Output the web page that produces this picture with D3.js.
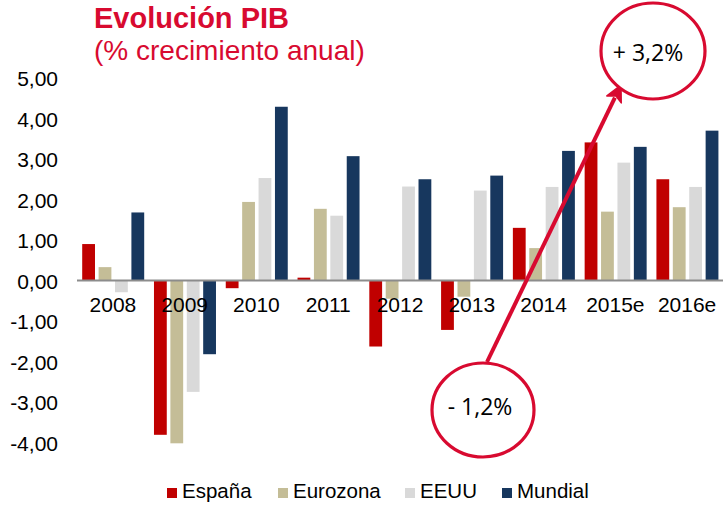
<!DOCTYPE html>
<html>
<head>
<meta charset="utf-8">
<script src="https://cdn.jsdelivr.net/npm/d3@7"></script>
<style>
  body { margin: 0; background: #fff; }
  svg { display: block; font-family: "Liberation Sans", Arial, sans-serif; }
</style>
</head>
<body>
<svg width="723" height="505"></svg>
<script>
// GDP growth, % per year
const years = ['2008', '2009', '2010', '2011', '2012', '2013', '2014', '2015e', '2016e'];
const series = ['España', 'Eurozona', 'EEUU', 'Mundial'];
const espana   = [0.90, -3.81, -0.19, 0.07, -1.63, -1.22, 1.30, 3.41, 2.50];
const eurozona = [0.33, -4.02, 1.94, 1.77, -0.45, -0.40, 0.80, 1.70, 1.81];
const eeuu     = [-0.29, -2.75, 2.53, 1.60, 2.32, 2.22, 2.31, 2.91, 2.31];
const mundial  = [1.68, -1.82, 4.29, 3.07, 2.50, 2.59, 3.20, 3.30, 3.70];
const yTicks = [-4, -3, -2, -1, 0, 1, 2, 3, 4, 5];

const colors = ['#c00000', '#c4bd97', '#d9d9d9', '#17375e'];
const red = '#d80a30';

const svg = d3.select('svg');
const values = [espana, eurozona, eeuu, mundial];

const x0 = d3.scaleBand().domain(years).range([77, 723]);
const x1 = d3.scaleBand().domain(series).range([5.2, 67.2]).paddingInner(0.22);
const y = d3.scaleLinear().domain([-4, 5]).range([442.5, 78]);
const fmt = d => d3.format('.2f')(d).replace('.', ',').replace('−', '-');

// title
svg.append('text').attr('x', 94).attr('y', 28)
  .attr('font-size', 29).attr('font-weight', 'bold').attr('fill', red)
  .text('Evolución PIB');
svg.append('text').attr('x', 94).attr('y', 60)
  .attr('font-size', 28).attr('fill', red)
  .text('(% crecimiento anual)');

// y axis labels
const yAxis = svg.append('g').attr('transform', 'translate(58,0)')
  .call(d3.axisLeft(y).tickValues(yTicks).tickFormat(fmt).tickSize(0).tickPadding(0));
yAxis.select('.domain').remove();
yAxis.selectAll('text').attr('font-size', 21).attr('fill', '#000')
  .attr('font-family', '"Liberation Sans", Arial, sans-serif').attr('dy', '0.38em');

// bars
const groups = svg.append('g').selectAll('g')
  .data(years)
  .join('g')
  .attr('transform', d => `translate(${x0(d)},0)`);

groups.selectAll('rect')
  .data((yr, i) => series.map((s, k) => ({ s, k, v: values[k][i] })))
  .join('rect')
  .attr('x', d => x1(d.s))
  .attr('width', x1.bandwidth())
  .attr('y', d => y(Math.max(0, d.v)))
  .attr('height', d => Math.abs(y(d.v) - y(0)))
  .attr('fill', d => colors[d.k]);

// zero line
svg.append('line')
  .attr('x1', 77).attr('x2', 723)
  .attr('y1', y(0)).attr('y2', y(0))
  .attr('stroke', '#8c8c8c').attr('stroke-width', 2);

// category labels
const xAxis = svg.append('g').attr('transform', `translate(0,${y(0)})`)
  .call(d3.axisBottom(x0).tickSize(0).tickPadding(0));
xAxis.select('.domain').remove();
xAxis.selectAll('text').attr('font-size', 21).attr('fill', '#000')
  .attr('font-family', '"Liberation Sans", Arial, sans-serif')
  .attr('dy', '1.5em');

// legend
const legendX = [167, 278, 405, 502];
const legend = svg.append('g').selectAll('g')
  .data(series)
  .join('g')
  .attr('transform', (d, i) => `translate(${legendX[i]},0)`);
legend.append('rect')
  .attr('x', 0).attr('y', 488).attr('width', 10).attr('height', 10)
  .attr('fill', (d, i) => colors[i]);
legend.append('text')
  .attr('x', 15).attr('y', 498)
  .attr('font-size', 20.5).attr('fill', '#000')
  .text(d => d);

// annotation arrow from -1,2% circle to +3,2% circle
const start = [487, 362], tip = [621, 85];
const dx = tip[0] - start[0], dy = tip[1] - start[1];
const len = Math.hypot(dx, dy);
const ux = dx / len, uy = dy / len;
const headLen = 16, headW = 8;
const bx = tip[0] - ux * headLen, by = tip[1] - uy * headLen;
svg.append('line')
  .attr('x1', start[0]).attr('y1', start[1])
  .attr('x2', bx + ux * 2).attr('y2', by + uy * 2)
  .attr('stroke', red).attr('stroke-width', 4);
svg.append('path')
  .attr('d', `M${tip[0]},${tip[1]} L${bx - uy * headW},${by + ux * headW} L${bx + ux * 4},${by + uy * 4} L${bx + uy * headW},${by - ux * headW} Z`)
  .attr('fill', red).attr('stroke', red).attr('stroke-width', 1.5).attr('stroke-linejoin', 'round');

// circles
const bubbles = [
  { cx: 653, cy: 51, rx: 52, ry: 48, label: '+ 3,2%', ty: 53, tx: 648 },
  { cx: 483, cy: 410, rx: 51, ry: 47, label: '- 1,2%', ty: 407, tx: 480 }
];
const b = svg.append('g').selectAll('g').data(bubbles).join('g');
b.append('ellipse')
  .attr('cx', d => d.cx).attr('cy', d => d.cy)
  .attr('rx', d => d.rx).attr('ry', d => d.ry)
  .attr('fill', '#fff').attr('stroke', red).attr('stroke-width', 3.2);
b.append('text')
  .attr('x', d => d.tx).attr('y', d => d.ty)
  .attr('text-anchor', 'middle').attr('dy', '0.36em')
  .attr('font-family', '"Open Sans", "Liberation Sans", sans-serif')
  .attr('font-size', 23).attr('fill', '#000')
  .text(d => d.label);
</script>
</body>
</html>
